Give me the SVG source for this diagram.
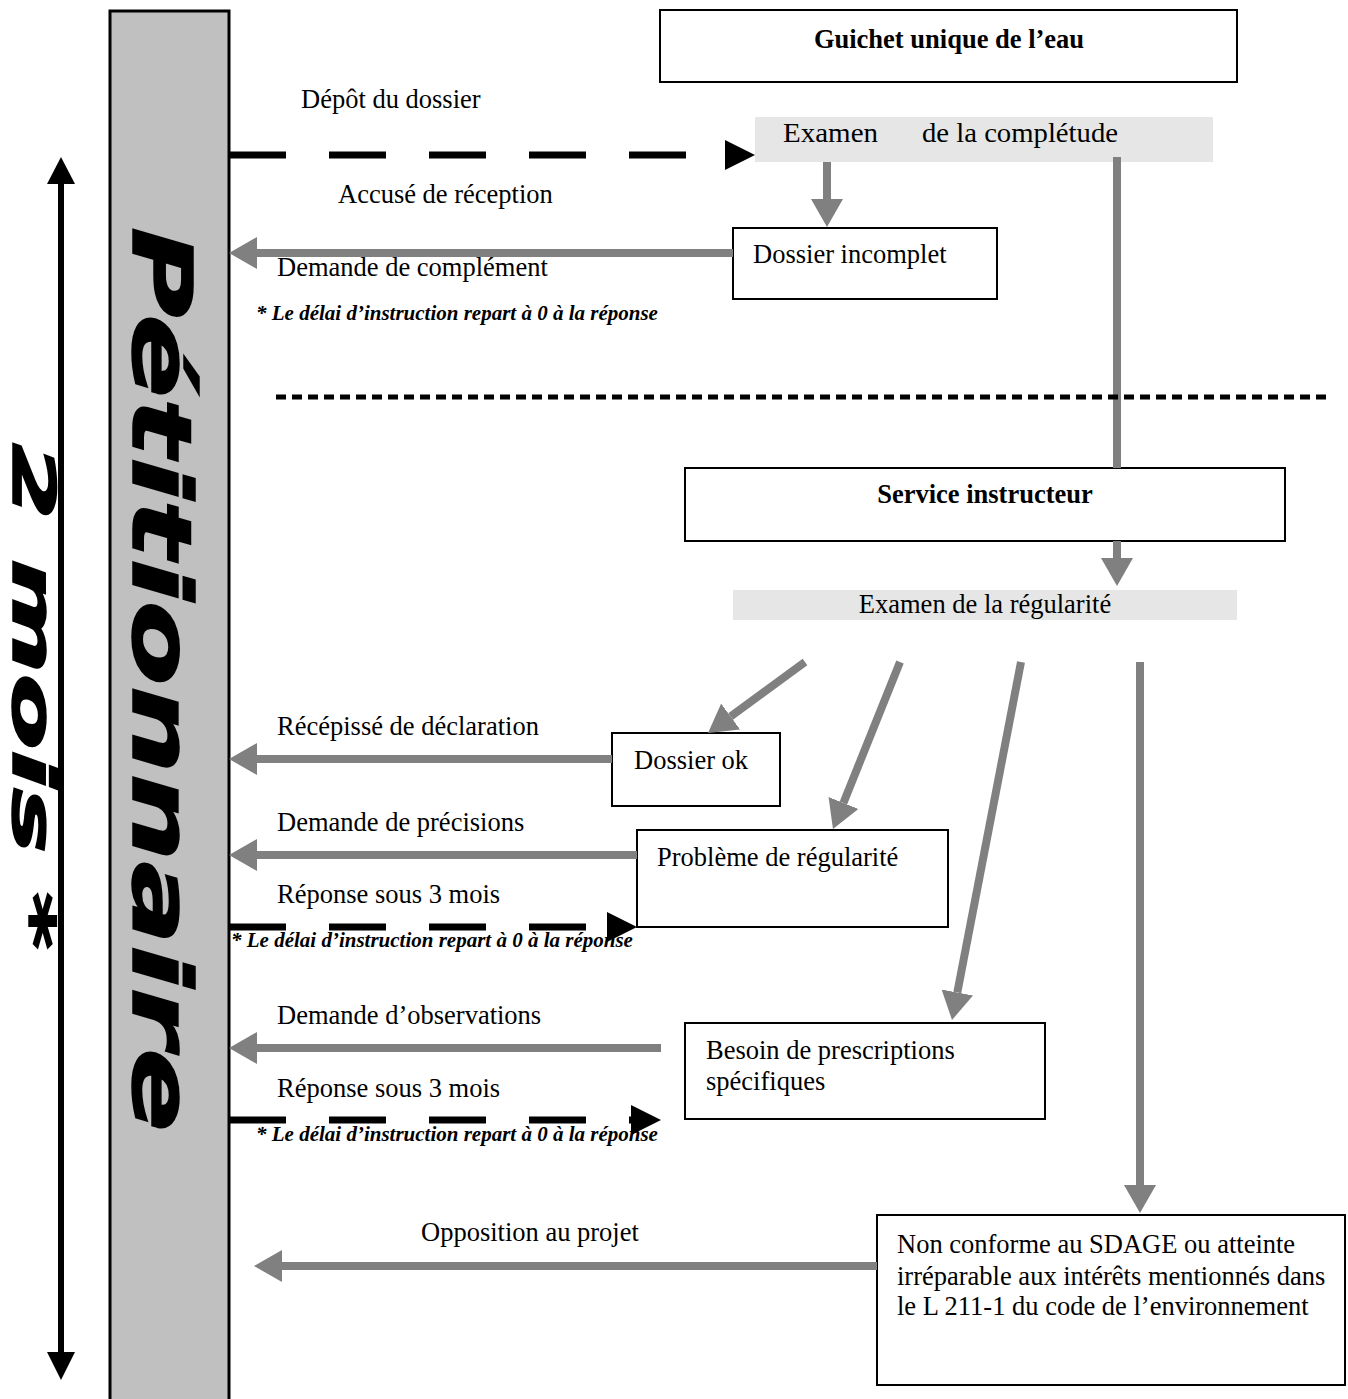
<svg xmlns="http://www.w3.org/2000/svg" width="1348" height="1399" viewBox="0 0 1348 1399">
<style>
.box{fill:#fff;stroke:#000;stroke-width:2}
.band{fill:#e6e6e6}
.t{font-family:"Liberation Serif","Times New Roman",serif;font-size:26.5px;fill:#000}
.b{font-weight:bold}
.note{font-family:"Liberation Serif","Times New Roman",serif;font-size:21px;font-weight:bold;font-style:italic;fill:#000}
.g{stroke:#808080;stroke-width:8;fill:none;marker-end:url(#ga)}
.gl{stroke:#808080;stroke-width:8;fill:none}
.k{stroke:#000;stroke-width:7;stroke-dasharray:57 43;fill:none;marker-end:url(#ka)}
.big{font-family:"DejaVu Sans","Liberation Sans",sans-serif;font-weight:bold;font-style:italic;fill:#000;stroke:#000;stroke-width:1.5}
</style>
<defs>
<marker id="ga" markerUnits="userSpaceOnUse" markerWidth="28" markerHeight="32" viewBox="0 0 28 32" refX="0" refY="16" orient="auto"><path d="M0,0 L28,16 L0,32 z" fill="#808080" stroke="none"/></marker>
<marker id="ka" markerUnits="userSpaceOnUse" markerWidth="30" markerHeight="30" viewBox="0 0 30 30" refX="0" refY="15" orient="auto"><path d="M0,0 L30,15 L0,30 z" fill="#000" stroke="none"/></marker>
</defs>
<rect width="1348" height="1399" fill="#fff"/>

<g id="duree">
<line x1="61" y1="182" x2="61" y2="1354" stroke="#000" stroke-width="6"/>
<polygon points="61,157 47,184 75,184" fill="#000"/>
<polygon points="61,1380 47,1352 75,1352" fill="#000"/>
<text class="big" transform="translate(13,443) rotate(90)" font-size="58" textLength="507" lengthAdjust="spacingAndGlyphs">2 mois *</text>
</g>

<g id="petitionnaire">
<rect x="110" y="11" width="119" height="1400" fill="#c0c0c0" stroke="#000" stroke-width="3"/>
<text class="big" transform="translate(133,227) rotate(90)" font-size="82" textLength="905" lengthAdjust="spacingAndGlyphs">Pétitionnaire</text>
</g>

<g id="guichet">
<rect class="box" x="660" y="10" width="577" height="72"/>
<text class="t b" x="949" y="48" text-anchor="middle">Guichet unique de l’eau</text>
</g>

<g id="examen-completude">
<rect class="band" x="755" y="117" width="458" height="45"/>
<text class="t" x="783" y="142" font-size="29" textLength="95" lengthAdjust="spacingAndGlyphs">Examen</text>
<text class="t" x="922" y="142" font-size="29" textLength="196" lengthAdjust="spacingAndGlyphs">de la complétude</text>
</g>

<g id="dossier-incomplet">
<rect class="box" x="733" y="228" width="264" height="71"/>
<text class="t" x="753" y="263">Dossier incomplet</text>
</g>

<g id="service">
<rect class="box" x="685" y="468" width="600" height="73"/>
<text class="t b" x="985" y="503" text-anchor="middle">Service instructeur</text>
</g>

<g id="examen-regularite">
<rect class="band" x="733" y="590" width="504" height="30"/>
<text class="t" x="985" y="613" text-anchor="middle">Examen de la régularité</text>
</g>

<g id="dossier-ok">
<rect class="box" x="612" y="733" width="168" height="73"/>
<text class="t" x="634" y="769">Dossier ok</text>
</g>

<g id="probleme">
<rect class="box" x="637" y="830" width="311" height="97"/>
<text class="t" x="657" y="866">Problème de régularité</text>
</g>

<g id="besoin">
<rect class="box" x="685" y="1023" width="360" height="96"/>
<text class="t" x="706" y="1059">Besoin de prescriptions</text>
<text class="t" x="706" y="1090">spécifiques</text>
</g>

<g id="non-conforme">
<rect class="box" x="877" y="1215" width="468" height="170"/>
<text class="t" x="897" y="1253">Non conforme au SDAGE ou atteinte</text>
<text class="t" x="897" y="1285">irréparable aux intérêts mentionnés dans</text>
<text class="t" x="897" y="1315">le L 211-1 du code de l’environnement</text>
</g>

<g id="connectors">
<line class="k" x1="229" y1="155" x2="725" y2="155"/>
<line class="g" x1="827" y1="162" x2="827" y2="199"/>
<line class="gl" x1="1117" y1="157" x2="1117" y2="468"/>
<line class="g" x1="733" y1="253" x2="257" y2="253"/>
<line x1="276" y1="397" x2="1332" y2="397" stroke="#000" stroke-width="5" stroke-dasharray="10 6"/>
<line class="g" x1="1117" y1="541" x2="1117" y2="558"/>
<line class="g" x1="805" y1="662" x2="730.6" y2="716.5"/>
<line class="g" x1="900" y1="662" x2="843.4" y2="803"/>
<line class="g" x1="1021" y1="662" x2="957.3" y2="992.5"/>
<line class="g" x1="1140" y1="662" x2="1140" y2="1185"/>
<line class="g" x1="612" y1="759" x2="257" y2="759"/>
<line class="g" x1="637" y1="855" x2="257" y2="855"/>
<line class="k" x1="229" y1="927" x2="607" y2="927"/>
<line class="g" x1="661" y1="1048" x2="257" y2="1048"/>
<line class="k" x1="229" y1="1120" x2="631" y2="1120"/>
<line class="g" x1="877" y1="1266" x2="282" y2="1266"/>
</g>

<g id="labels">
<text class="t" x="301" y="108">Dépôt du dossier</text>
<text class="t" x="338" y="203">Accusé de réception</text>
<text class="t" x="277" y="276">Demande de complément</text>
<text class="note" x="256" y="320">* Le délai d’instruction repart à 0 à la réponse</text>
<text class="t" x="277" y="735">Récépissé de déclaration</text>
<text class="t" x="277" y="831">Demande de précisions</text>
<text class="t" x="277" y="903">Réponse sous 3 mois</text>
<text class="note" x="231" y="947">* Le délai d’instruction repart à 0 à la réponse</text>
<text class="t" x="277" y="1024">Demande d’observations</text>
<text class="t" x="277" y="1097">Réponse sous 3 mois</text>
<text class="note" x="256" y="1141">* Le délai d’instruction repart à 0 à la réponse</text>
<text class="t" x="421" y="1241">Opposition au projet</text>
</g>
</svg>
